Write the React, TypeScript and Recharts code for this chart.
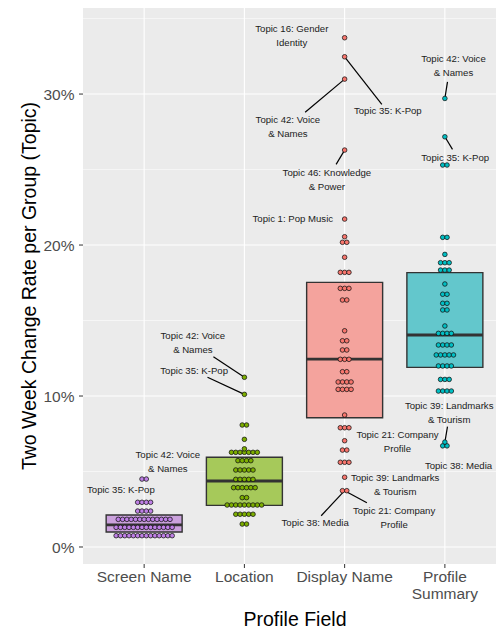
import {
  ScatterChart, Scatter, XAxis, YAxis, CartesianGrid,
  ReferenceArea, ReferenceLine
} from "recharts";

const fields = ["Screen Name", "Location", "Display Name", "Profile Summary"];
const dotColors = ["#BF80E6", "#7CAE00", "#F8766D", "#00BFC4"];
const boxFills = ["#CBA2DD", "#A6C95A", "#F4A39D", "#63C7CC"];

// dot rows: [change rate %, dots in the row]
const screenNameRows = [[0.75, 14], [1.3, 14], [1.83, 13], [2.38, 4], [2.96, 4], [4.5, 2]];
const locationRows = [
  [1.52, 2], [2.17, 5], [2.78, 9], [3.27, 2], [3.93, 6], [4.48, 5], [5.1, 5],
  [5.72, 4], [6.27, 7], [6.5, 1], [7.13, 1], [8.08, 2], [10.11, 1], [11.24, 1]
];
const displayNameRows = [
  [3.73, 2], [4.62, 1], [5.61, 3], [6.42, 2], [7.04, 1], [7.9, 3], [8.74, 1],
  [10.44, 4], [10.93, 4], [11.61, 2], [12.43, 3], [13.05, 2], [13.66, 2], [14.32, 1],
  [16.36, 2], [17.13, 3], [18.19, 3], [19.19, 1], [20.18, 2], [20.55, 1], [21.72, 1],
  [26.29, 1], [30.99, 1], [32.47, 1], [33.73, 1]
];
const profileSummaryRows = [
  [6.7, 2], [6.95, 1], [10.33, 4], [11.1, 3], [11.99, 4], [12.72, 5], [13.38, 4],
  [14.15, 4], [14.64, 1], [15.7, 2], [16.14, 2], [16.74, 2], [17.42, 1], [18.34, 3],
  [18.83, 3], [19.38, 1], [20.51, 2], [25.3, 2], [27.17, 1], [29.71, 1]
];

// box stats: [q1, median, q3]
const boxStats = [
  [0.99, 1.46, 2.12],
  [2.76, 4.37, 5.94],
  [8.56, 12.45, 17.53],
  [11.9, 14.04, 18.17]
];

const yTicks = [0, 10, 20, 30];
const yMinor = [5, 15, 25, 35];
const xTicks = [1, 2, 3, 4];

// labelled topics: field index, value, text
const topicLabels = [
  { field: 0, value: 4.5, text: ["Topic 42: Voice", "& Names"] },
  { field: 0, value: 2.96, text: ["Topic 35: K-Pop"] },
  { field: 1, value: 11.24, text: ["Topic 42: Voice", "& Names"] },
  { field: 1, value: 10.11, text: ["Topic 35: K-Pop"] },
  { field: 2, value: 33.73, text: ["Topic 16: Gender", "Identity"] },
  { field: 2, value: 32.47, text: ["Topic 35: K-Pop"] },
  { field: 2, value: 30.99, text: ["Topic 42: Voice", "& Names"] },
  { field: 2, value: 26.29, text: ["Topic 46: Knowledge", "& Power"] },
  { field: 2, value: 21.72, text: ["Topic 1: Pop Music"] },
  { field: 2, value: 4.62, text: ["Topic 39: Landmarks", "& Tourism"] },
  { field: 2, value: 3.73, text: ["Topic 38: Media"] },
  { field: 2, value: 3.73, text: ["Topic 21: Company", "Profile"] },
  { field: 3, value: 29.71, text: ["Topic 42: Voice", "& Names"] },
  { field: 3, value: 27.17, text: ["Topic 35: K-Pop"] },
  { field: 3, value: 6.95, text: ["Topic 39: Landmarks", "& Tourism"] },
  { field: 3, value: 6.7, text: ["Topic 38: Media"] },
  { field: 3, value: 6.7, text: ["Topic 21: Company", "Profile"] }
];

// where each label sits (axis units), and where its leader line ends
const labelSpots = [
  { x: 1.236, y: 5.64, lead: null },
  { x: 0.768, y: 3.77, lead: null },
  { x: 1.486, y: 13.51, lead: [1.691, 12.6] },
  { x: 1.499, y: 11.68, lead: [1.632, 11.24] },
  { x: 2.473, y: 33.87, lead: null },
  { x: 3.431, y: 28.89, lead: [3.371, 29.32] },
  { x: 2.434, y: 27.83, lead: [2.606, 28.79] },
  { x: 2.823, y: 24.32, lead: [2.915, 25.34] },
  { x: 2.483, y: 21.72, lead: null },
  { x: 3.504, y: 4.12, lead: null },
  { x: 2.706, y: 1.61, lead: [2.766, 2.07] },
  { x: 3.494, y: 1.97, lead: [3.222, 2.93] },
  { x: 4.086, y: 31.87, lead: [4.026, 30.81] },
  { x: 4.103, y: 25.81, lead: [4.076, 26.34] },
  { x: 4.043, y: 8.87, lead: [4.026, 7.97] },
  { x: 4.136, y: 5.38, lead: null },
  { x: 3.527, y: 7.01, lead: null }
];

const dotStep = 0.043;
const boxHalf = 0.379;
const FONT = "'Liberation Sans', Arial, sans-serif";

const dotSeries = [screenNameRows, locationRows, displayNameRows, profileSummaryRows].map(
  (rows, g) =>
    rows.flatMap(([v, n]) =>
      Array.from({ length: n }, (_, i) => ({ x: g + 1 + (i - (n - 1) / 2) * dotStep, y: v }))
    )
);

const labelData = topicLabels.map((l, i) => ({ x: labelSpots[i].x, y: labelSpots[i].y, lines: l.text }));

function FieldTick({ x, y, payload }: any) {
  const name = fields[Math.round(payload.value) - 1] || "";
  const lines = name === "Profile Summary" ? ["Profile", "Summary"] : [name];
  return (
    <text x={x} y={y} textAnchor="middle" fill="#4D4D4D" fontSize={15.5}>
      {lines.map((t, k) => (
        <tspan key={k} x={x} dy={k === 0 ? 14 : 17}>{t}</tspan>
      ))}
    </text>
  );
}

function LabelShape(props: any) {
  const { cx, cy, payload } = props;
  const lines: string[] = payload.lines;
  const start = cy + 3.4 - ((lines.length - 1) * 14) / 2;
  return (
    <text x={cx} y={start} textAnchor="middle" fontSize={9.6} fill="#222">
      {lines.map((t, k) => (
        <tspan key={k} x={cx} dy={k === 0 ? 0 : 14}>{t}</tspan>
      ))}
    </text>
  );
}

export default function App() {
  return (
    <div style={{ position: "absolute", left: 0, top: 0, fontFamily: FONT }}>
      <ScatterChart width={496} height={631} margin={{ top: 8, right: 0, bottom: 0, left: 0 }}>
        <CartesianGrid
          fill="#EBEBEB"
          stroke="#FFFFFF"
          strokeWidth={1.1}
          horizontalValues={yTicks}
          verticalValues={xTicks}
        />
        <CartesianGrid stroke="#FFFFFF" strokeWidth={0.55} vertical={false} horizontalValues={yMinor} />
        <XAxis
          type="number"
          dataKey="x"
          domain={[0.39, 4.51]}
          ticks={xTicks}
          interval={0}
          allowDataOverflow
          axisLine={false}
          tickLine={{ stroke: "#333333" }}
          tickSize={4}
          tickMargin={0}
          height={67}
          tick={<FieldTick />}
          label={{
            content: () => (
              <text x={295} y={626} textAnchor="middle" fontSize={19.5} fill="#000">Profile Field</text>
            )
          }}
        />
        <YAxis
          type="number"
          dataKey="y"
          domain={[-1.126, 35.7]}
          ticks={yTicks}
          interval={0}
          allowDataOverflow
          axisLine={false}
          tickLine={{ stroke: "#333333" }}
          tickSize={4}
          tickMargin={4.5}
          width={83}
          tick={{ fill: "#4D4D4D", fontSize: 15.5 }}
          tickFormatter={(v: number) => `${v}%`}
          label={{
            content: () => (
              <text x={36} y={286} transform="rotate(-90 36 286)" textAnchor="middle" fontSize={19.5} fill="#000">
                Two Week Change Rate per Group (Topic)
              </text>
            )
          }}
        />
        {boxStats.map(([q1, , q3], g) => (
          <ReferenceArea
            key={`box${g}`}
            x1={g + 1 - boxHalf}
            x2={g + 1 + boxHalf}
            y1={q1}
            y2={q3}
            fill={boxFills[g]}
            fillOpacity={1}
            stroke="#333333"
            strokeWidth={1.4}
            ifOverflow="visible"
          />
        ))}
        {boxStats.map(([, med], g) => (
          <ReferenceLine
            key={`med${g}`}
            segment={[{ x: g + 1 - boxHalf, y: med }, { x: g + 1 + boxHalf, y: med }]}
            stroke="#333333"
            strokeWidth={2.8}
          />
        ))}
        {topicLabels.map((l, i) => {
          const lead = labelSpots[i].lead;
          if (!lead) return null;
          return (
            <ReferenceLine
              key={`lead${i}`}
              segment={[{ x: l.field + 1, y: l.value }, { x: lead[0], y: lead[1] }]}
              stroke="#000"
              strokeWidth={1.2}
            />
          );
        })}
        {dotSeries.map((data, g) => (
          <Scatter
            key={`dots${g}`}
            data={data}
            isAnimationActive={false}
            shape={(p: any) => (
              <circle cx={p.cx} cy={p.cy} r={2.3} fill={dotColors[g]} stroke="#111" strokeWidth={0.75} />
            )}
          />
        ))}
        <Scatter data={labelData} isAnimationActive={false} shape={<LabelShape />} />
      </ScatterChart>
    </div>
  );
}
